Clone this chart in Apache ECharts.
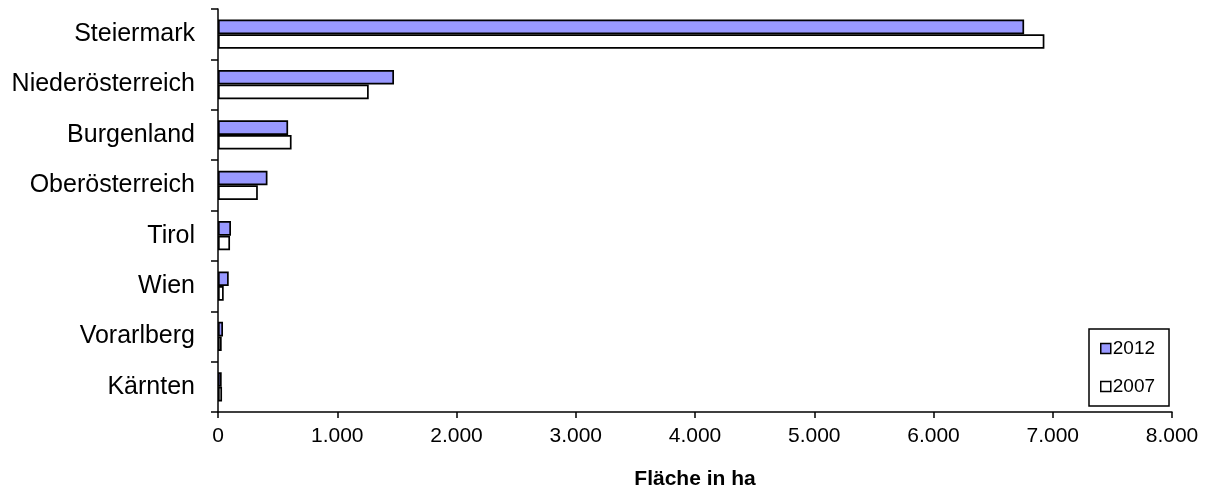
<!DOCTYPE html>
<html>
<head>
<meta charset="utf-8">
<script src="https://cdn.jsdelivr.net/npm/echarts@6/dist/echarts.min.js"></script>
<style>
  html, body { margin: 0; padding: 0; background: #fff; }
  #chart { width: 1213px; height: 495px; }
</style>
</head>
<body>
<div id="chart"></div>
<script>
// Bundesländer, top to bottom
const categories = ['Steiermark', 'Niederösterreich', 'Burgenland', 'Oberösterreich', 'Tirol', 'Wien', 'Vorarlberg', 'Kärnten'];
// Fläche in ha
const values2012 = [6760, 1476, 588, 415, 109, 90, 42, 31];
const values2007 = [6930, 1264, 617, 334, 101, 48, 31, 34];
const seriesNames = ['2012', '2007'];
const axisMin = 0, axisMax = 8000, axisStep = 1000;

const FONT = '"Liberation Sans", Arial, sans-serif';
const chart = echarts.init(document.getElementById('chart'), null, { renderer: 'canvas' });

function fmtThousands(v) {
  return String(v).replace(/\B(?=(\d{3})+(?!\d))/g, '.');
}

chart.setOption({
  animation: false,
  backgroundColor: '#ffffff',
  grid: { left: 218, right: 41, top: 9, bottom: 83, containLabel: false },
  legend: {
    orient: 'vertical',
    left: 1089,
    top: 329,
    data: seriesNames,
    padding: [10, 14, 10, 11],
    itemGap: 19,
    itemWidth: 10,
    itemHeight: 10,
    icon: 'rect',
    borderColor: '#000',
    borderWidth: 1.5,
    itemStyle: { borderColor: '#000', borderWidth: 1.5 },
    textStyle: { fontFamily: FONT, fontSize: 19, color: '#000', padding: [0, 0, 0, -3] }
  },
  xAxis: {
    type: 'value',
    min: axisMin,
    max: axisMax,
    interval: axisStep,
    name: 'Fläche in ha',
    nameLocation: 'middle',
    nameGap: 57,
    nameTextStyle: { fontFamily: FONT, fontSize: 21, fontWeight: 'bold', color: '#000' },
    axisLine: { show: true, lineStyle: { color: '#000', width: 1.5 } },
    axisTick: { show: true, length: 6, lineStyle: { color: '#000', width: 1.5 } },
    axisLabel: { fontFamily: FONT, fontSize: 21, color: '#000', margin: 14, formatter: fmtThousands },
    splitLine: { show: false }
  },
  yAxis: {
    type: 'category',
    data: categories,
    inverse: true,
    axisLine: { show: true, lineStyle: { color: '#000', width: 1.5 } },
    axisTick: { show: true, length: 7, lineStyle: { color: '#000', width: 1.5 } },
    axisLabel: { fontFamily: FONT, fontSize: 25, color: '#000', margin: 23 }
  },
  series: [
    {
      name: seriesNames[0],
      type: 'bar',
      data: values2012,
      barGap: '0%',
      barCategoryGap: '42%',
      itemStyle: { color: '#9999FF', borderColor: '#000', borderWidth: 1.7 }
    },
    {
      name: seriesNames[1],
      type: 'bar',
      data: values2007,
      barGap: '0%',
      barCategoryGap: '42%',
      itemStyle: { color: '#FFFFFF', borderColor: '#000', borderWidth: 1.7 }
    }
  ]
});
</script>
</body>
</html>
